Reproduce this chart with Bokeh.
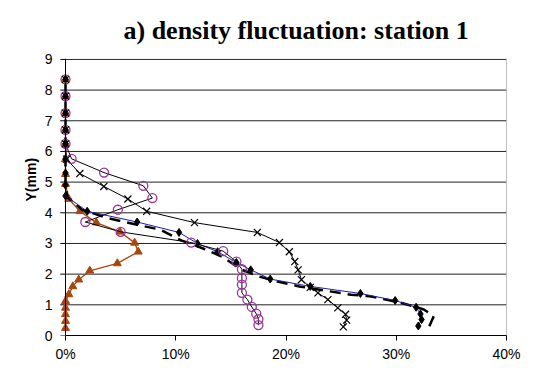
from bokeh.plotting import figure
from bokeh.models import Range1d, FixedTicker, PrintfTickFormatter, Span, Title
from bokeh.embed import file_html
from bokeh.resources import INLINE

# Depth levels shared by every profile near the top
top_y = [6.25, 6.7, 7.25, 7.8, 8.35]
top_x = [0, 0, 0, 0, 0]

# Diamond profile (blue line)
dia_y = [0.31, 0.52, 0.70, 0.92, 1.14, 1.37, 1.60, 1.84, 2.14, 2.38, 2.73, 3.00,
         3.36, 3.70, 4.05, 4.55, 4.90, 5.30, 5.75] + top_y
dia_x = [32.0, 32.3, 32.2, 31.8, 29.9, 26.75, 22.2, 18.57, 16.8, 15.5, 13.8, 11.97,
         10.3, 6.5, 1.97, 0, 0, 0, 0] + top_x

# Dashed profile (no markers)
dash_y = [0.30, 0.63, 0.85, 1.07, 1.28, 1.33, 1.46, 1.60, 1.76, 1.92, 2.16, 2.57,
          2.82, 3.10, 3.45, 3.61, 3.83, 4.10, 4.50, 4.90, 5.75] + top_y
dash_x = [33.0, 33.4, 32.5, 30.4, 27.6, 25.9, 23.6, 21.2, 19.2, 17.6, 15.9, 14.2,
          12.6, 10.5, 8.6, 6.5, 3.8, 1.5, 0.2, 0, 0] + top_x

# Cross profile
crs_y = [0.28, 0.50, 0.69, 0.90, 1.17, 1.39, 1.57, 1.82, 2.14, 2.41, 2.73, 3.03,
         3.36, 3.68, 4.05, 4.45, 4.86, 5.28, 5.75] + top_y
crs_x = [25.2, 25.5, 25.4, 24.7, 23.8, 22.9, 22.2, 21.4, 21.1, 20.8, 20.3, 19.4,
         17.4, 11.7, 7.36, 5.66, 3.48, 1.3, 0.1] + top_x

# Open-circle profile
cir_y = [0.34, 0.53, 0.71, 0.93, 1.17, 1.39, 1.66, 1.87, 2.16, 2.41, 2.75, 3.03,
         3.38, 3.70, 4.10, 4.48, 4.88, 5.31, 5.76] + top_y
cir_x = [17.5, 17.5, 17.3, 16.9, 16.5, 16.0, 16.0, 16.0, 16.0, 15.5, 14.3, 11.4,
         5.0, 1.8, 4.75, 7.88, 7.06, 3.5, 0.55] + top_x

# Triangle profile
tri_y = [0.24, 0.47, 0.69, 0.90, 1.12, 1.34, 1.60, 1.82, 2.11, 2.35, 2.73, 3.02,
         3.38, 3.68, 4.05, 4.45, 4.94, 5.26, 5.74] + top_y
tri_x = [0, 0, 0, 0, 0, 0.3, 0.66, 1.2, 2.2, 4.7, 6.6, 6.27,
         4.94, 2.8, 1.3, 0.3, 0, 0, 0] + top_x

x_ticks = [0, 10, 20, 30, 40]
y_ticks = [0, 1, 2, 3, 4, 5, 6, 7, 8, 9]

BROWN = "#A8460F"
PURPLE = "#993399"
NAVY = "#1F1F9F"

# a little room left of x=0 (and above y=9) so nothing on the edges is cut off
X0 = -0.635
p = figure(width=536, height=373, output_backend="svg", toolbar_location=None,
           x_range=Range1d(X0, 40), y_range=Range1d(0, 9.03),
           min_border_left=58, min_border_right=30, min_border_top=55,
           min_border_bottom=38,
           title="a) density fluctuation: station 1")

p.title.text_font = "Liberation Serif"
p.title.text_font_style = "bold"
p.title.text_font_size = "26px"
p.title.align = "left"
p.title.offset = 65
p.title.standoff = 27
p.title.text_color = "black"

p.background_fill_color = "white"
p.border_fill_color = "white"
p.outline_line_color = None
p.xgrid.grid_line_color = None
p.ygrid.grid_line_color = None

p.xaxis.ticker = FixedTicker(ticks=x_ticks)
p.xaxis.formatter = PrintfTickFormatter(format="%d%%")
p.xaxis.bounds = (0, 40)
p.xaxis.axis_line_color = "black"
p.xaxis.major_tick_line_color = "black"
p.xaxis.major_tick_out = 5
p.xaxis.major_tick_in = 0

# the y axis only carries the labels; its line and ticks are drawn at x=0 below
p.yaxis.ticker = FixedTicker(ticks=y_ticks)
p.yaxis.axis_line_color = None
p.yaxis.major_tick_line_color = None
p.yaxis.major_tick_out = 0
p.yaxis.major_tick_in = 0
p.yaxis.major_label_standoff = 6

for ax in (p.xaxis, p.yaxis):
    ax.minor_tick_line_color = None
    ax.major_label_text_font = "Liberation Sans"
    ax.major_label_text_font_size = "14px"
    ax.major_label_text_color = "black"

n = len(y_ticks)
# horizontal gridlines across the plot area, and the short y ticks left of x=0
p.segment(x0=[0] * n, y0=y_ticks, x1=[40] * n, y1=y_ticks,
          line_color="#222222", line_width=1)
p.segment(x0=[X0 * 0.75] * n, y0=y_ticks, x1=[0] * n, y1=y_ticks,
          line_color="black", line_width=1)
p.add_layout(Span(location=0, dimension="height", line_color="black", line_width=1))
p.add_layout(Span(location=40, dimension="height", line_color="#808080", line_width=1))

# y-axis title
p.add_layout(Title(text="Y(mm)", align="left", offset=134, standoff=5,
                   text_font="Liberation Sans", text_font_style="bold",
                   text_font_size="14px", text_color="black"), "left")

# profiles
p.line(tri_x, tri_y, line_color=BROWN, line_width=1.3)
p.scatter(tri_x, tri_y, marker="triangle", size=8, line_color=BROWN, fill_color=BROWN)
p.line(dash_x, dash_y, line_color="black", line_width=2.5, line_dash="11 7")
p.line(dia_x, dia_y, line_color=NAVY, line_width=1)
p.scatter(dia_x, dia_y, marker="diamond", size=8, line_color="black", fill_color="black")
p.line(crs_x, crs_y, line_color="black", line_width=1)
p.line(cir_x, cir_y, line_color="black", line_width=1)
p.scatter(cir_x, cir_y, marker="circle", size=9, line_color=PURPLE, fill_color=None,
          line_width=1.3)
p.scatter(crs_x, crs_y, marker="x", size=10, line_color="black", line_width=1.2)

open("out.html", "w").write(file_html(p, INLINE))
